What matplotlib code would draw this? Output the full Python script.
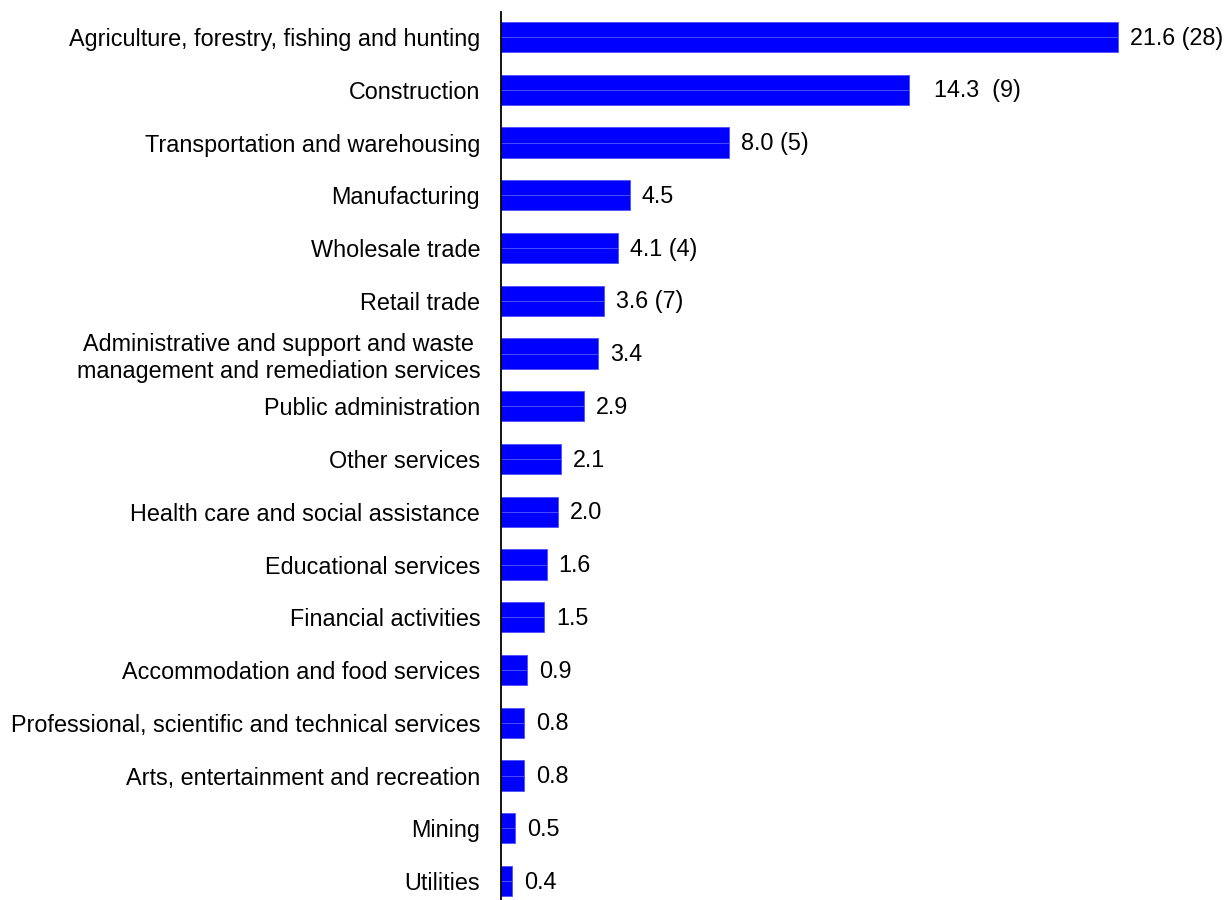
import matplotlib
matplotlib.use("Agg")
import matplotlib.pyplot as plt
from matplotlib.transforms import offset_copy

# Industry categories, top to bottom
categories = [
    "Agriculture, forestry, fishing and hunting",
    "Construction",
    "Transportation and warehousing",
    "Manufacturing",
    "Wholesale trade",
    "Retail trade",
    "Administrative and support and waste\nmanagement and remediation services",
    "Public administration",
    "Other services",
    "Health care and social assistance",
    "Educational services",
    "Financial activities",
    "Accommodation and food services",
    "Professional, scientific and technical services",
    "Arts, entertainment and recreation",
    "Mining",
    "Utilities",
]
# Rates shown on each bar
rates = [21.6, 14.3, 8.0, 4.5, 4.1, 3.6, 3.4, 2.9, 2.1, 2.0, 1.6, 1.5, 0.9, 0.8, 0.8, 0.5, 0.4]
# Counts shown in parentheses (None where not given)
counts = [28, 9, 5, None, 4, 7, None, None, None, None, None, None, None, None, None, None, None]

plt.rcParams["font.family"] = ["Liberation Sans", "DejaVu Sans"]
FS = 16.8

fig = plt.figure(figsize=(12.28, 9.0), dpi=100)
ax = fig.add_axes([501 / 1228, 0.0, 727 / 1228, 888 / 900])

bar_color = "#0000ff"
line_color = "#5050ff"
h = 0.57
pos = list(range(len(categories)))

# Each bar drawn as two halves so a faint seam runs along its middle
for y, v in zip(pos, rates):
    ax.barh(y - h / 4, v, height=h / 2, color=bar_color, edgecolor=line_color, linewidth=0.6)
    ax.barh(y + h / 4, v, height=h / 2, color=bar_color, edgecolor=line_color, linewidth=0.6)

label_tf = offset_copy(ax.transData, fig=fig, x=12, y=-1, units="dots")
for y, v, c in zip(pos, rates, counts):
    if c is None:
        txt = f"{v:.1f}"
    elif c == 9:
        txt = f"  {v:.1f}  ({c})"
    else:
        txt = f"{v:.1f} ({c})"
    ax.text(v, y, txt, transform=label_tf, ha="left", va="center", fontsize=FS, color="black")

ax.set_yticks(pos)
ax.set_yticklabels(categories, fontsize=FS, ha="right", multialignment="center")
ax.tick_params(axis="y", length=0, pad=15)
ax.set_xticks([])

ax.set_xlim(0, 727 / 28.56)
ax.set_ylim(16.36, -0.474)

for side in ("top", "right", "bottom"):
    ax.spines[side].set_visible(False)
ax.spines["left"].set_linewidth(1.3)
ax.spines["left"].set_color("black")

fig.savefig("out.png", dpi=100, facecolor="white")
